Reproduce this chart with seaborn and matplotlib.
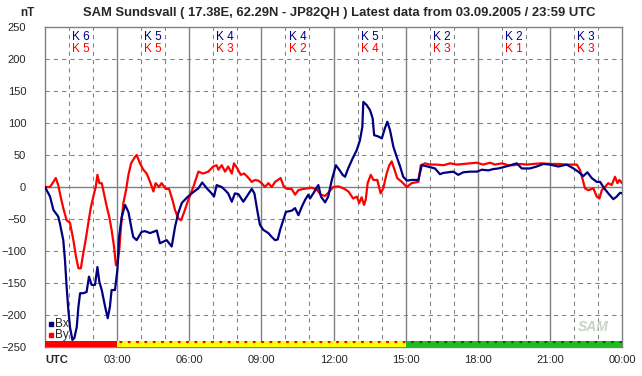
#SAM Sundsvall magnetometer chart (Bx / By, 24 h)

#import libraries
import pandas as pd
import seaborn as sns
import matplotlib.pyplot as plt

#data (hours UTC, nT)
bx_hours = [0, 0.21, 0.35, 0.55, 0.62, 0.76, 0.83, 0.90, 0.97, 1.04, 1.14, 1.22, 1.32, 1.39, 1.46,
            1.59, 1.73, 1.83, 1.94, 2.08, 2.18, 2.26, 2.36, 2.50, 2.61, 2.70, 2.77, 2.91, 3.01, 3.08,
            3.19, 3.33, 3.47, 3.61, 3.67, 3.81, 4.02, 4.16, 4.37, 4.65, 4.78, 5.06, 5.27, 5.41, 5.54,
            5.69, 5.89, 6.10, 6.38, 6.54, 6.73, 6.93, 7.03, 7.14, 7.35, 7.49, 7.62, 7.77, 7.90, 8.04,
            8.25, 8.39, 8.60, 8.71, 8.85, 8.94, 9.08, 9.29, 9.43, 9.57, 9.68, 9.78, 9.91, 10.02, 10.26,
            10.40, 10.54, 10.68, 10.82, 10.95, 11.02, 11.16, 11.37, 11.48, 11.65, 11.78, 11.93, 12.10,
            12.24, 12.38, 12.48, 12.62, 12.80, 12.97, 13.10, 13.20, 13.24, 13.38, 13.52, 13.63, 13.69,
            13.86, 14.01, 14.14, 14.24, 14.35, 14.49, 14.63, 14.77, 14.90, 15.05, 15.25, 15.53, 15.67,
            15.81, 16.01, 16.22, 16.43, 16.57, 16.78, 16.98, 17.19, 17.40, 17.68, 17.96, 18.17, 18.44,
            18.65, 18.86, 19.06, 19.27, 19.62, 19.83, 20.17, 20.45, 20.73, 21.01, 21.35, 21.70, 21.98,
            22.18, 22.39, 22.56, 22.74, 22.95, 23.09, 23.22, 23.43, 23.64, 23.78, 23.92, 24.0]
bx_nt = [0, -15, -36, -46, -57, -83, -114, -156, -192, -219, -239, -236, -219, -187, -166,
         -166, -164, -140, -153, -153, -125, -148, -161, -187, -205, -187, -161, -161, -130, -78,
         -47, -28, -39, -67, -78, -83, -70, -69, -72, -68, -88, -83, -93, -62, -41,
         -25, -17, -10, -2, 7, -2, -10, -15, 3, 0, -5, -10, -23, -10, -11,
         -23, -15, -3, -10, -41, -59, -67, -72, -78, -83, -82, -67, -52, -39, -37,
         -33, -44, -31, -20, -12, -18, -10, 3, -15, -24, -15, 11, 34,
         27, 19, 16, 30, 45, 58, 73, 94, 133, 128, 120, 107, 81,
         79, 76, 92, 102, 89, 63, 47, 32, 16, 10, 11, 11, 34,
         33, 31, 29, 20, 22, 23, 24, 19, 23, 24, 24, 27, 26,
         28, 29, 31, 33, 37, 29, 29, 32, 36, 35, 32, 35, 29,
         24, 17, 23, 14, 8, 8, 0, -10, -19, -15, -9, -10]

by_hours = [0, 0.21, 0.35, 0.45, 0.55, 0.65, 0.76, 0.90, 1.04, 1.18, 1.29, 1.39, 1.49, 1.59, 1.69,
            1.80, 1.90, 2.01, 2.11, 2.18, 2.26, 2.36, 2.45, 2.57, 2.67, 2.77, 2.87, 2.95, 3.02, 3.09,
            3.16, 3.26, 3.37, 3.47, 3.58, 3.71, 3.81, 3.95, 4.09, 4.23, 4.37, 4.51, 4.60, 4.74, 4.85,
            5.02, 5.16, 5.30, 5.41, 5.54, 5.66, 5.79, 5.96, 6.17, 6.38, 6.58, 6.79, 7.00, 7.14, 7.21,
            7.35, 7.49, 7.62, 7.77, 7.86, 8.00, 8.14, 8.28, 8.42, 8.60, 8.74, 8.87, 9.01, 9.15, 9.29,
            9.43, 9.57, 9.80, 9.94, 10.08, 10.26, 10.40, 10.54, 10.74, 10.95, 11.09, 11.30, 11.47, 11.65,
            11.83, 11.99, 12.20, 12.41, 12.62, 12.82, 12.97, 13.07, 13.17, 13.27, 13.34, 13.42, 13.55,
            13.66, 13.82, 13.96, 14.07, 14.21, 14.32, 14.42, 14.52, 14.65, 14.84, 15.05, 15.25, 15.53,
            15.63, 15.81, 16.01, 16.29, 16.57, 16.85, 17.13, 17.40, 17.68, 17.96, 18.23, 18.51, 18.72,
            19.00, 19.27, 19.48, 19.76, 20.04, 20.31, 20.66, 21.01, 21.35, 21.70, 22.12, 22.25, 22.37,
            22.46, 22.60, 22.81, 22.95, 23.06, 23.16, 23.29, 23.43, 23.57, 23.71, 23.81, 23.89, 24.0]
by_nt = [0, 0, 8, 14, 3, -15, -33, -52, -56, -83, -109, -127, -127, -104, -83,
         -57, -33, -15, 0, 19, 6, 6, -10, -31, -46, -67, -93, -122, -119, -98,
         -62, -25, -5, 19, 37, 45, 50, 37, 27, 21, 8, -7, 6, 0, 6,
         -3, -3, -20, -36, -49, -52, -39, -20, 0, 24, 21, 24, 32, 34, 27,
         34, 24, 32, 21, 37, 29, 19, 21, 16, 8, 11, 10, 6, 0, 6,
         0, 8, 14, 0, -3, -3, -12, -5, -3, -2, -1, -4, -12, -14,
         -7, 0, 1, -2, -7, -18, -15, -25, -16, -28, -20, 6, 19,
         11, 11, -10, -2, 21, 34, 40, 29, 14, 8, 0, 6, 8,
         34, 37, 35, 35, 34, 37, 35, 36, 37, 38, 35, 38, 35,
         37, 34, 34, 36, 35, 36, 37, 36, 36, 35, 35, 27, 11,
         -2, -5, -2, -15, -18, -5, 0, 6, 3, 16, 6, 11, 6]

#K indices per 3 hour block
k_bx = [6, 5, 4, 4, 5, 2, 2, 3]
k_by = [5, 5, 3, 2, 4, 3, 1, 3]

#status bar at the bottom
status_start = [0, 3, 15]
status_len = [3, 12, 9]
status_face = ['#ff0000', '#ffff00', '#22bb22']
status_dots = ['#ff0000', '#ff0000', '#006600']

x_labels = ['UTC', '03:00', '06:00', '09:00', '12:00', '15:00', '18:00', '21:00', '00:00']

sns.set_style('white')
plt.rcParams['font.family'] = ['Liberation Sans', 'DejaVu Sans']
plt.rcParams['hatch.linewidth'] = 1.0

df = pd.concat([pd.DataFrame({'hour': bx_hours, 'nT': bx_nt, 'comp': 'Bx'}),
                pd.DataFrame({'hour': by_hours, 'nT': by_nt, 'comp': 'By'})])

fig = plt.figure(figsize=(6.42, 3.76), dpi=100)
ax = fig.add_axes([45/642, 1-347/376, 577/642, 320/376])

grey = '#808080'
#grid
for h in range(1, 24):
    if h % 3 == 0:
        ax.axvline(h, color=grey, lw=1, zorder=1)
    else:
        ax.axvline(h, color=grey, lw=0.75, ls=(0, (4, 4)), zorder=1)
for v in range(-200, 250, 50):
    if v == 0:
        ax.axhline(v, color=grey, lw=1, zorder=1)
    else:
        ax.axhline(v, color=grey, lw=0.75, ls=(0, (4, 4)), zorder=1)

sns.lineplot(data=df, x='hour', y='nT', hue='comp', palette={'Bx': '#000080', 'By': '#ff0000'},
             hue_order=['By', 'Bx'], estimator=None, legend=False, lw=1.6, ax=ax, zorder=3)

#status bar
for s, w, fc, dc in zip(status_start, status_len, status_face, status_dots):
    ax.broken_barh([(s, w)], (-250, 9), facecolors=fc, edgecolor=dc, hatch='..' if s > 0 else None,
                   lw=0, zorder=4)

#K labels
for i, (kb, kr) in enumerate(zip(k_bx, k_by)):
    ax.text(1.5 + 3*i, 234, 'K ' + str(kb), color='#000080', ha='center', va='center', fontsize=8.5)
    ax.text(1.5 + 3*i, 215, 'K ' + str(kr), color='#ff0000', ha='center', va='center', fontsize=8.5)

ax.set_xlim(0, 24)
ax.set_ylim(-250, 250)
ax.set_xticks(range(0, 25, 3))
ax.set_xticklabels(x_labels)
ax.get_xticklabels()[0].set_fontweight('bold')
ax.get_xticklabels()[0].set_ha('left')
ax.set_yticks(range(-250, 251, 50))
ax.tick_params(axis='both', labelsize=8, length=2.5, color=grey, direction='out')
ax.tick_params(axis='y', pad=11)
ax.tick_params(axis='x', length=0, pad=6)
ax.set_xlabel('')
ax.set_ylabel('')
for sp in ax.spines.values():
    sp.set_color(grey)
    sp.set_linewidth(1)

#legend
ax.plot([0.25], [-214], 's', color='#000080', ms=2.5)
ax.text(0.42, -214, 'Bx', fontsize=8.5, va='center')
ax.plot([0.25], [-232], 's', color='#ff0000', ms=2.5)
ax.text(0.42, -232, 'By', fontsize=8.5, va='center')

#logo
ax.text(22.8, -218, 'SAM', fontsize=10, style='italic', fontweight='bold', color='#c8d4c8',
        ha='center', va='center')

fig.text(339/642, 1-13/376, 'SAM Sundsvall ( 17.38E, 62.29N - JP82QH ) Latest data from 03.09.2005 / 23:59 UTC',
         ha='center', va='center', fontsize=9.4, fontweight='bold')
fig.text(27/642, 1-13/376, 'nT', ha='center', va='center', fontsize=8.5, fontweight='bold')

plt.savefig('out.png', dpi=100)
